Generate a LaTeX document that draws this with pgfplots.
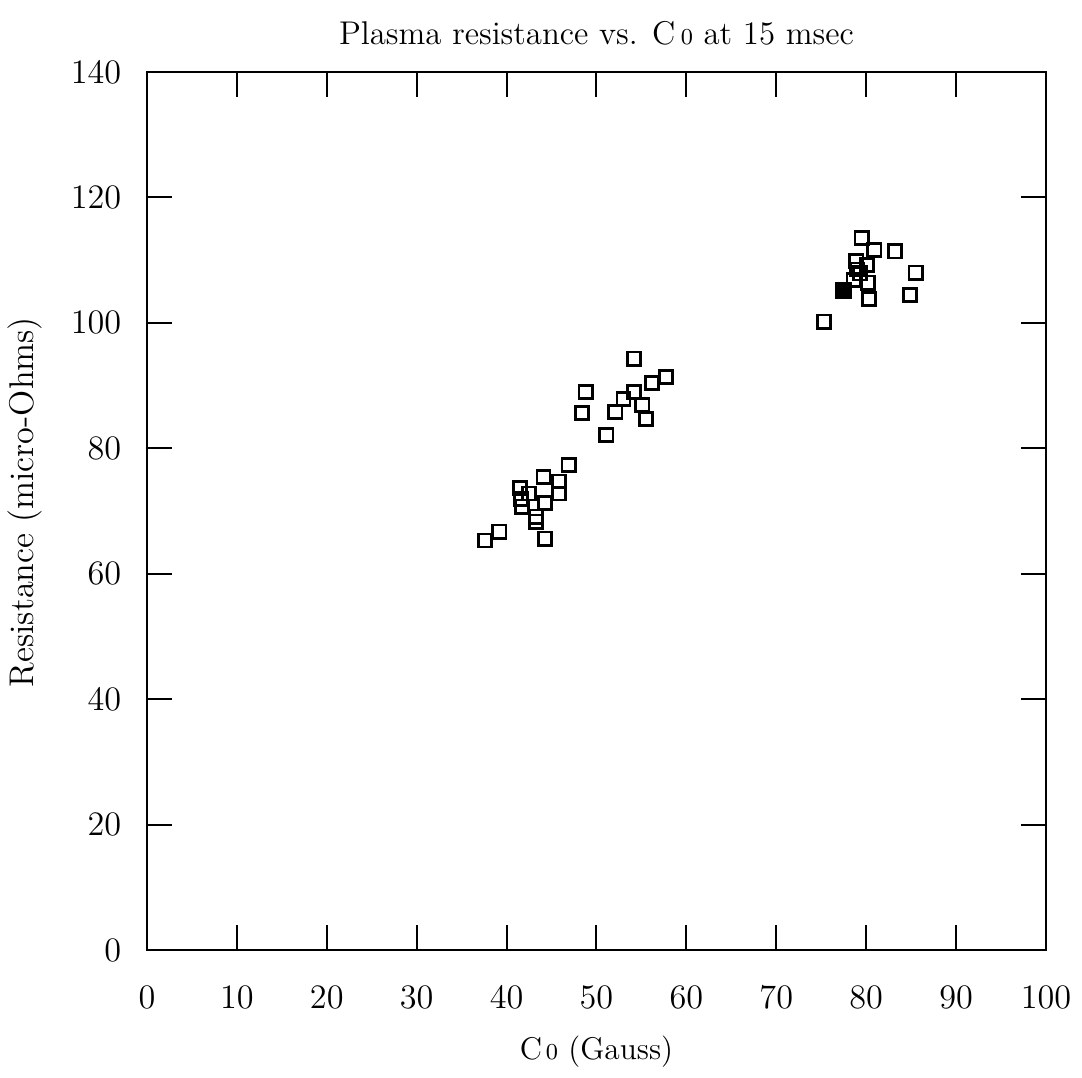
\documentclass[border=0pt]{standalone}
\usepackage{pgfplots}
\pgfplotsset{compat=1.18}
\begin{document}
\begin{tikzpicture}
\useasboundingbox (-51.45pt,-44.8pt) rectangle (327.25pt,332.5pt);
\begin{axis}[
  at={(0,0)}, anchor=south west,
  scale only axis,
  width=314.65pt, height=307.3pt,
  xmin=0, xmax=100, ymin=0, ymax=140,
  xtick={0,10,...,100}, ytick={0,20,...,140},
  tick align=inside,
  major tick length=8.75pt,
  axis line style={line width=1pt},
  every tick/.style={line width=0.7pt, black},
  minor tick num=0,
  font=\fontsize{12}{14}\selectfont,
  /pgf/number format/assume math mode=true,
  xticklabel style={yshift=-9pt},
  yticklabel style={xshift=-5.5pt},
  title={Plasma resistance vs. C\,{\footnotesize 0} at 15 msec},
  title style={at={(axis description cs:0.5,1)}, anchor=base, yshift=3.45pt, font=\fontsize{11.5}{13}\selectfont},
  xlabel={C{\footnotesize\,0} (Gauss)},
  xlabel style={at={(axis description cs:0.5,0)}, anchor=base, yshift=-38.5pt, font=\fontsize{11}{13}\selectfont},
  ylabel={Resistance (micro-Ohms)},
  ylabel style={at={(axis description cs:-0.1357,0.51)}, anchor=center, font=\fontsize{12}{14}\selectfont},
]
\addplot[only marks, mark=square, mark size=2.3pt, line width=0.95pt, black] coordinates {
(54.2,94.3) (57.7,91.4) (56.2,90.4) (48.8,89.0) (54.2,89.0) (53.0,87.9)
(55.1,86.9) (52.1,85.8) (48.4,85.6) (55.5,84.7) (51.1,82.1)
(46.9,77.3) (44.1,75.4) (45.8,74.7) (41.5,73.6) (42.5,72.8) (45.8,72.8)
(41.6,71.9) (44.3,71.3) (41.7,70.7) (43.3,69.1) (43.3,68.3) (44.3,65.6)
(39.2,66.7) (37.6,65.3)
(79.5,113.5) (80.9,111.6) (83.2,111.4) (78.9,109.8) (80.1,109.2) (79.3,107.9)
(85.5,108.0) (78.6,106.8) (80.2,106.4) (84.9,104.4) (80.3,103.8) (75.3,100.2)
(79.0,108.5)
};
\addplot[only marks, mark=square*, mark size=2.7pt, black] coordinates {(77.5,105.2)};
\end{axis}
\end{tikzpicture}
\end{document}
